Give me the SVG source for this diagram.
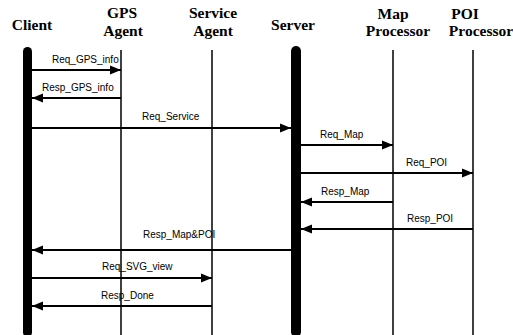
<svg xmlns="http://www.w3.org/2000/svg" width="513" height="335" viewBox="0 0 513 335">
<defs>
<marker id="ah" markerWidth="12" markerHeight="10" refX="11" refY="5" orient="auto" markerUnits="userSpaceOnUse">
<path d="M0,0.5 L11,5 L0,9.5 Z" fill="#000"/>
</marker>
<style>
.hd{font-family:"Liberation Serif","Times New Roman",serif;font-weight:bold;font-size:15.5px;text-anchor:middle;fill:#000}
.lb{font-family:"Liberation Sans",Arial,sans-serif;font-size:10px;fill:#000}
.ll{stroke:#000;stroke-width:1.5}
.bar{fill:#000}
.msg{stroke:#000;stroke-width:2;fill:none;marker-end:url(#ah)}
</style>
</defs>
<rect width="513" height="335" fill="#fff"/>
<g id="client">
<text class="hd" x="32" y="30">Client</text>
<rect class="bar" x="23" y="47" width="9" height="290" rx="4.5"/>
</g>
<g id="gps-agent">
<text class="hd" x="122" y="18">GPS</text>
<text class="hd" x="123" y="36">Agent</text>
<line class="ll" x1="121" y1="50" x2="121" y2="335"/>
</g>
<g id="service-agent">
<text class="hd" x="213" y="18">Service</text>
<text class="hd" x="213" y="36">Agent</text>
<line class="ll" x1="212" y1="50" x2="212" y2="335"/>
</g>
<g id="server">
<text class="hd" x="293" y="30">Server</text>
<rect class="bar" x="291" y="46" width="10" height="291" rx="5"/>
</g>
<g id="map-processor">
<text class="hd" x="393" y="19">Map</text>
<text class="hd" x="398" y="36">Processor</text>
<line class="ll" x1="393" y1="50" x2="393" y2="335"/>
</g>
<g id="poi-processor">
<text class="hd" x="465" y="19">POI</text>
<text class="hd" x="481" y="36">Processor</text>
<line class="ll" x1="473" y1="50" x2="473" y2="335"/>
</g>
<g id="connectors">
<line class="msg" x1="32" y1="70" x2="121" y2="70"/>
<text class="lb" x="52" y="63">Req_GPS_info</text>
<line class="msg" x1="121" y1="98" x2="32" y2="98"/>
<text class="lb" x="42" y="91">Resp_GPS_info</text>
<line class="msg" x1="32" y1="128" x2="291" y2="128"/>
<text class="lb" x="142" y="120">Req_Service</text>
<line class="msg" x1="301" y1="145" x2="393" y2="145"/>
<text class="lb" x="320" y="138">Req_Map</text>
<line class="msg" x1="301" y1="173" x2="473" y2="173"/>
<text class="lb" x="406" y="166">Req_POI</text>
<line class="msg" x1="393" y1="202" x2="301" y2="202"/>
<text class="lb" x="321" y="195">Resp_Map</text>
<line class="msg" x1="473" y1="229" x2="301" y2="229"/>
<text class="lb" x="407" y="222">Resp_POI</text>
<line class="msg" x1="291" y1="250" x2="32" y2="250"/>
<text class="lb" x="143" y="238">Resp_Map&amp;POI</text>
<line class="msg" x1="32" y1="278" x2="212" y2="278"/>
<text class="lb" x="102" y="270">Req_SVG_view</text>
<line class="msg" x1="212" y1="306" x2="32" y2="306"/>
<text class="lb" x="101" y="299">Resp_Done</text>
</g>
</svg>
